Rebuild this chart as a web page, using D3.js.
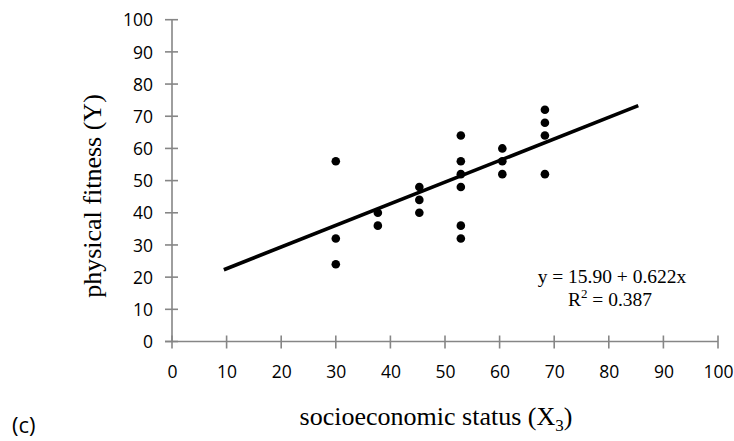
<!DOCTYPE html>
<html>
<head>
<meta charset="utf-8">
<script src="https://cdn.jsdelivr.net/npm/d3@7"></script>
<style>
  html, body { margin: 0; padding: 0; background: #fff; }
  svg { display: block; }
</style>
</head>
<body>
<svg id="chart" width="734" height="441"></svg>
<script>
// ---- data ----
const pointX = [30.0, 30.0, 30.0,
                37.7, 37.7,
                45.3, 45.3, 45.3,
                52.9, 52.9, 52.9, 52.9, 52.9, 52.9,
                60.5, 60.5, 60.5,
                68.3, 68.3, 68.3, 68.3];
const pointY = [56, 32, 24,
                40, 36,
                48, 44, 40,
                64, 56, 52, 48, 36, 32,
                60, 56, 52,
                72, 68, 64, 52];
const fitX = [9.5, 85.4];
const fitY = [22.3, 73.3];
const xTicks = [0, 10, 20, 30, 40, 50, 60, 70, 80, 90, 100];
const yTicks = [0, 10, 20, 30, 40, 50, 60, 70, 80, 90, 100];
const equationLines = ["y = 15.90 + 0.622x", "R2 = 0.387"];

// ---- layout ----
const svg = d3.select("#chart");
const x = d3.scaleLinear().domain([0, 100]).range([172, 718]);
const y = d3.scaleLinear().domain([0, 100]).range([341.5, 19.7]);
const axisColor = "#868686";
const tickFont = "'Open Sans', sans-serif";
const serif = "'Liberation Serif', 'Times New Roman', serif";

// y axis
const yAxis = d3.axisLeft(y).tickValues(yTicks).tickSize(0).tickPadding(0).tickFormat(d3.format("d"));
const gy = svg.append("g").attr("transform", `translate(${x(0)},0)`).call(yAxis);
gy.select(".domain").remove();
svg.append("line").attr("x1", x(0)).attr("x2", x(0)).attr("y1", y(100)).attr("y2", y(0))
  .attr("stroke", axisColor).attr("stroke-width", 1.6);
svg.selectAll(".ytick").data(yTicks).enter().append("line")
  .attr("x1", x(0) - 7).attr("x2", x(0) + 6)
  .attr("y1", d => y(d)).attr("y2", d => y(d))
  .attr("stroke", axisColor).attr("stroke-width", 1.6);
gy.selectAll(".tick text")
  .attr("x", -19).attr("dy", "0.35em")
  .style("font-family", tickFont).style("font-size", "17.5px").attr("fill", "#000");

// x axis
const xAxis = d3.axisBottom(x).tickValues(xTicks).tickSize(0).tickPadding(0).tickFormat(d3.format("d"));
const gx = svg.append("g").attr("transform", `translate(0,${y(0)})`).call(xAxis);
gx.select(".domain").remove();
svg.append("line").attr("x1", x(0) - 7).attr("x2", x(100)).attr("y1", y(0)).attr("y2", y(0))
  .attr("stroke", axisColor).attr("stroke-width", 1.6);
svg.selectAll(".xtick").data(xTicks).enter().append("line")
  .attr("x1", d => x(d)).attr("x2", d => x(d))
  .attr("y1", y(0) - 6).attr("y2", y(0) + 7)
  .attr("stroke", axisColor).attr("stroke-width", 1.6);
gx.selectAll(".tick text")
  .attr("y", 30).attr("dy", "0.35em")
  .style("font-family", tickFont).style("font-size", "17.5px").attr("fill", "#000");

// points
svg.append("g").selectAll("circle").data(pointX).enter().append("circle")
  .attr("cx", d => x(d)).attr("cy", (d, i) => y(pointY[i])).attr("r", 4.3).attr("fill", "#000");

// fit line
svg.append("path")
  .datum(fitX.map((d, i) => [d, fitY[i]]))
  .attr("d", d3.line().x(d => x(d[0])).y(d => y(d[1])))
  .attr("stroke", "#000").attr("stroke-width", 3.6).attr("fill", "none");

// equation
const eq = svg.append("text").attr("text-anchor", "middle")
  .style("font-family", serif).style("font-size", "19.5px").attr("fill", "#000");
eq.append("tspan").attr("x", 612).attr("y", 283).text(equationLines[0]);
const r2 = svg.append("text").attr("text-anchor", "middle").attr("x", 610).attr("y", 306)
  .style("font-family", serif).style("font-size", "19.5px").attr("fill", "#000");
r2.append("tspan").text("R");
r2.append("tspan").attr("dy", -8).style("font-size", "13px").text("2");
r2.append("tspan").attr("dy", 8).text(" = 0.387");

// axis titles
const xt = svg.append("text").attr("text-anchor", "middle").attr("x", 436).attr("y", 425)
  .style("font-family", serif).style("font-size", "26px").attr("fill", "#000");
xt.append("tspan").text("socioeconomic status (X");
xt.append("tspan").attr("dy", 6).style("font-size", "17px").text("3");
xt.append("tspan").attr("dy", -6).text(")");

svg.append("text").attr("text-anchor", "middle")
  .attr("transform", "translate(101,196) rotate(-90)")
  .style("font-family", serif).style("font-size", "26px").attr("fill", "#000")
  .text("physical fitness (Y)");

// panel label
svg.append("text").attr("x", 12).attr("y", 433)
  .style("font-family", tickFont).style("font-size", "22px").attr("fill", "#000")
  .text("(c)");
</script>
</body>
</html>
